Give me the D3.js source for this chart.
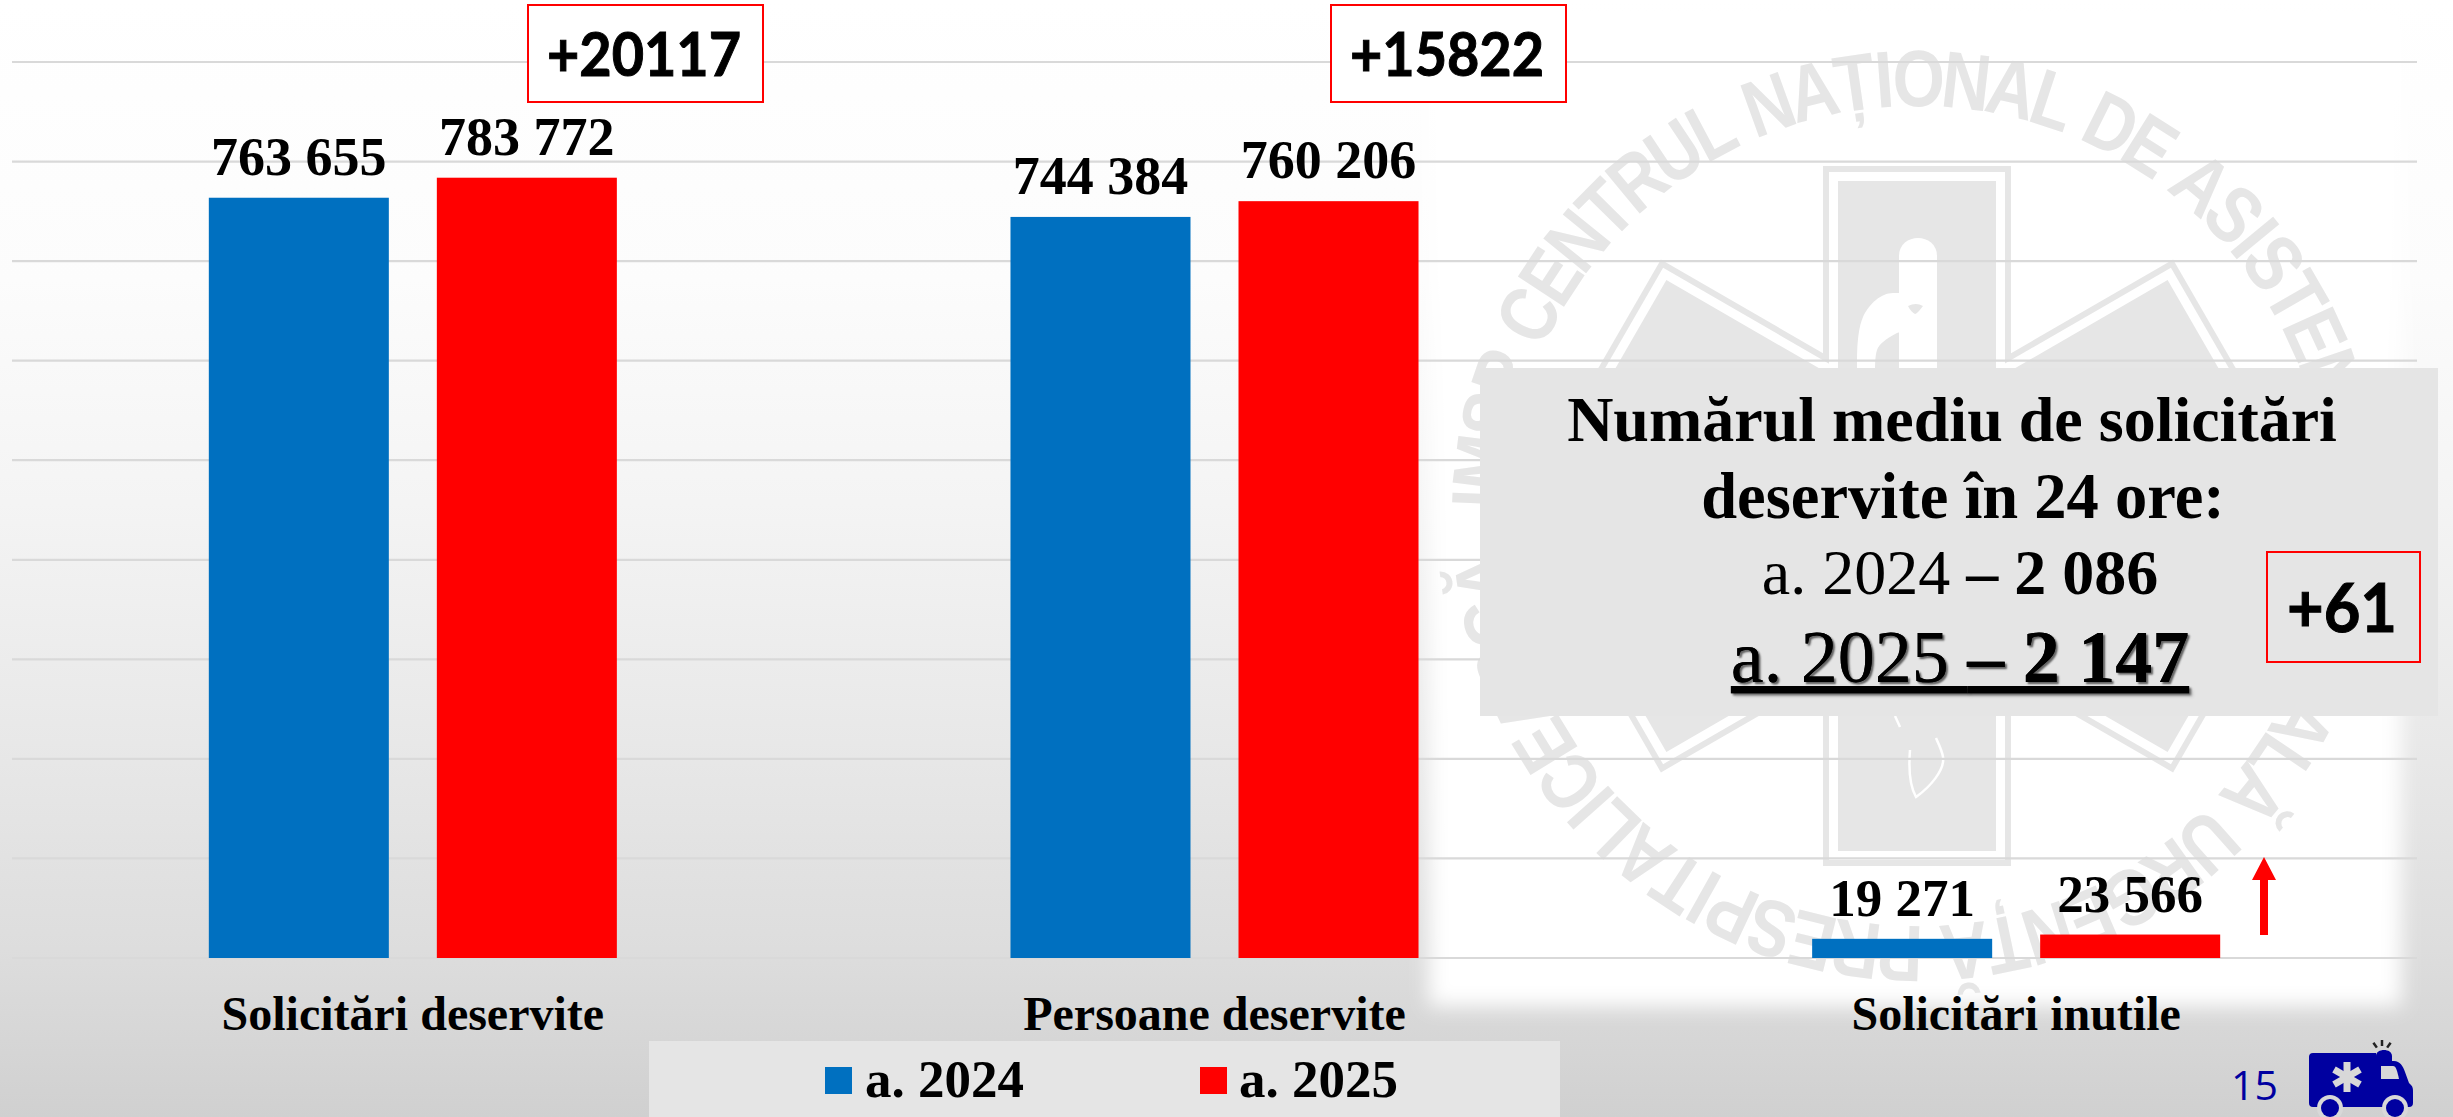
<!DOCTYPE html>
<html><head><meta charset="utf-8">
<script src="https://cdn.jsdelivr.net/npm/d3@7"></script>
<style>html,body{margin:0;padding:0;background:#fff;overflow:hidden}svg{display:block}</style>
</head><body><svg id="c" width="2453" height="1117"></svg>
<script>
const categories = ["Solicitări deservite","Persoane deservite","Solicitări inutile"];
const seriesNames = ["a. 2024","a. 2025"];
const values2024 = [763655,744384,19271];
const values2025 = [783772,760206,23566];
const differences = ["+20117","+15822"];
const averageLines = ["Numărul mediu de solicitări","deservite în 24 ore:"];
const seriesColors = ["#0070C0","#FF0000"];
const watermarkText = "IMSP CENTRUL NAȚIONAL DE ASISTENȚĂ MEDICALĂ URGENȚĂ PRESPITALICEASCĂ";

const W=2453,H=1117,serif="'Liberation Serif',serif",sans="Lato,'Open Sans',sans-serif";
const svg=d3.select("#c");
const defs=svg.append("defs");
const grad=defs.append("linearGradient").attr("id","bg").attr("x1",0).attr("y1",0).attr("x2",0).attr("y2",1);
[[0,"#ffffff"],[.25,"#fcfcfc"],[.45,"#f4f4f4"],[.7,"#e6e6e6"],[.85,"#dddddd"],[1,"#d0d0d0"]].forEach(s=>grad.append("stop").attr("offset",s[0]).attr("stop-color",s[1]));
defs.append("filter").attr("id","soft").attr("x","-5%").attr("y","-5%").attr("width","110%").attr("height","110%")
  .append("feGaussianBlur").attr("stdDeviation",10);
svg.append("rect").attr("width",W).attr("height",H).attr("fill","url(#bg)");

// watermark panel
svg.append("rect").attr("x",1429).attr("y",12).attr("width",972).attr("height",994).attr("fill","#fff").attr("filter","url(#soft)");
const wm=svg.append("g").attr("transform","translate(1917,516)");
const wmGrey="#e6e6e6";
[[94,350,wmGrey],[88,344,"#fff"],[79,335,wmGrey]].forEach(l=>{
  [0,60,120].forEach(a=>wm.append("rect").attr("x",-l[0]).attr("y",-l[1]).attr("width",l[0]*2).attr("height",l[1]*2).attr("fill",l[2]).attr("transform",`rotate(${a})`));
});
// rod and snake
wm.append("path").attr("fill","#fff").attr("d","M-18,-260 C-18,-284 20,-284 20,-260 L20,-140 L-18,-140 Z");
wm.append("path").attr("fill","#fff").attr("d","M-60,-140 L-60,-156 C-60,-175 -58,-190 -54,-199 C-48,-212 -36,-223 -24,-223 L3,-223 C10,-223 16,-219 20,-213 C20,-203 16,-196 10,-193 C0,-188 -10,-187 -20,-183 C-30,-178 -38,-172 -40,-166 C-42,-160 -42,-150 -42,-140 Z");
wm.append("path").attr("fill",wmGrey).attr("d","M-9,-210 Q-1,-214 6,-210 Q0,-202 -2,-202 Q-6,-204 -9,-210 Z");
wm.append("path").attr("fill","none").attr("stroke","#fff").attr("stroke-width",2.5)
  .attr("d","M-7,234 C-9,259 -5,274 -1,281 C13,271 28,254 26,241 C25,234 21,227 19,222 M-22,200 L-17,211");
// circular legend, letter by letter so each glyph can be narrowed
const wmFont="'Liberation Sans',sans-serif", wmSize=80, wmSquash=0.84, rText=410;
const probe=svg.append("text").attr("font-family",wmFont).attr("font-weight",700).attr("font-size",wmSize);
const chars=Array.from(watermarkText);
const adv=chars.map(ch=>{probe.text(ch==" "?"i":ch);return probe.node().getComputedTextLength()*wmSquash+3;});
probe.remove();
const total=d3.sum(adv), startDeg=-89, spanDeg=354;
let run=0;
const wmLetters=wm.append("g").attr("font-family",wmFont).attr("font-weight",700).attr("font-size",wmSize).attr("fill",wmGrey).attr("text-anchor","middle");
chars.forEach((ch,i)=>{
  const a=startDeg+(run+adv[i]/2)/total*spanDeg; run+=adv[i];
  if(ch!==" ")wmLetters.append("text").attr("transform",`rotate(${a}) translate(0,${-rText}) scale(${wmSquash},1)`).text(ch);
});

// scales
const x0=d3.scaleBand().domain(categories).range([12,2417]);
const x1=d3.scaleBand().domain(seriesNames).range([0,x0.bandwidth()]).paddingInner(48/228).paddingOuter(196.8/228);
const y=d3.scaleLinear().domain([0,900000]).range([958,62]);
const fmt=d3.formatLocale({decimal:".",thousands:" ",grouping:[3],currency:["",""]}).format(",d");

// grid
svg.append("g").selectAll("line").data(y.ticks(9)).join("line")
  .attr("x1",12).attr("x2",2417).attr("y1",d=>y(d)).attr("y2",d=>y(d)).attr("stroke","#d9d9d9").attr("stroke-width",2.2);

// bars and labels
const rows=categories.map((c,i)=>[{c,s:seriesNames[0],v:values2024[i],k:0},{c,s:seriesNames[1],v:values2025[i],k:1}]).flat();
svg.append("g").selectAll("rect").data(rows).join("rect")
  .attr("x",d=>x0(d.c)+x1(d.s)).attr("width",x1.bandwidth()).attr("y",d=>y(d.v)).attr("height",d=>y(0)-y(d.v)).attr("fill",d=>seriesColors[d.k]);
svg.append("g").selectAll("text").data(rows).join("text")
  .attr("x",d=>x0(d.c)+x1(d.s)+x1.bandwidth()/2).attr("y",d=>y(d.v)-23).attr("text-anchor","middle")
  .attr("font-family",serif).attr("font-weight",700).attr("font-size",d=>d.v<1e5?53:54).attr("fill","#000").text(d=>fmt(d.v));
svg.append("g").selectAll("text").data(categories).join("text")
  .attr("x",d=>x0(d)+x0.bandwidth()/2).attr("y",1030).attr("text-anchor","middle")
  .attr("font-family",serif).attr("font-weight",700).attr("font-size",48).attr("fill","#000").text(d=>d);

// delta boxes
function deltaBox(x,yy,w,h,t,cx,base,tw,fs){
  svg.append("rect").attr("x",x).attr("y",yy).attr("width",w).attr("height",h).attr("fill","#fff").attr("fill-opacity",t==="+61"?0:1).attr("stroke","#FF0000").attr("stroke-width",2);
  svg.append("text").attr("x",cx).attr("y",base).attr("text-anchor","middle").attr("font-family",sans).attr("font-weight",700).attr("font-size",fs)
    .attr("textLength",tw).attr("lengthAdjust","spacingAndGlyphs").attr("fill","#000").attr("stroke","#000").attr("stroke-width",1).text(t);
}
deltaBox(528,5,235,97,differences[0],644,76,194,62);
deltaBox(1331,5,235,97,differences[1],1447,76,194,62);

// info box
svg.append("rect").attr("x",1480).attr("y",368).attr("width",958).attr("height",348).attr("fill","#e5e5e5");
function T(x,yy,fs,w){return svg.append("text").attr("x",x).attr("y",yy).attr("text-anchor","middle").attr("font-family",serif).attr("font-size",fs).attr("font-weight",w).attr("fill","#000");}
T(1952,441,64,700).text(averageLines[0]);
T(1963,518,64.5,700).text(averageLines[1]);
const l3=T(1960,594,64,400);
l3.append("tspan").text(seriesNames[0]+" ");
l3.append("tspan").attr("font-weight",700).text("– "+d3.format(",")(2086).replace(","," "));
const l4=T(1960,682,74,400).attr("text-decoration","underline").style("text-shadow","2px 2px 2px rgba(0,0,0,.35)");
l4.append("tspan").text(seriesNames[1]+" ");
l4.append("tspan").attr("font-weight",700).text("– "+d3.format(",")(2147).replace(","," "));
deltaBox(2267,552,153,110,"+61",2342,632,110,66);

// arrow
svg.append("path").attr("fill","#FF0000").attr("d","M2260,935 V880 H2252 L2264,857 L2276,880 H2268 V935 Z");

// legend
svg.append("rect").attr("x",649).attr("y",1041).attr("width",911).attr("height",76).attr("fill","#e5e5e5");
const leg=[[825,865],[1200,1239]];
seriesNames.forEach((s,i)=>{
  svg.append("rect").attr("x",leg[i][0]).attr("y",1067).attr("width",27).attr("height",27).attr("fill",seriesColors[i]);
  svg.append("text").attr("x",leg[i][1]).attr("y",1097).attr("font-family",serif).attr("font-weight",700).attr("font-size",53).attr("fill","#000").text(s);
});

// page number + ambulance
svg.append("text").attr("x",2231).attr("y",1100).attr("font-family","'Open Sans',sans-serif").attr("font-size",41).attr("fill","#0000A0").text("15");
const am=svg.append("g");
am.append("path").attr("fill","#0000A0").attr("d","M2313,1053 H2376 V1056 C2376,1048 2392,1048 2392,1056 V1061 H2394 C2400,1061 2403,1066 2405,1072 L2409,1083 L2411,1085 C2413,1087 2413,1089 2413,1092 V1103 Q2413,1107 2409,1107 H2313 Q2309,1107 2309,1103 V1057 Q2309,1053 2313,1053 Z");
am.append("path").attr("fill","#d8d8d8").attr("d","M2381,1066 H2393 C2396,1066 2397,1070 2399,1079 H2381 Z");
am.append("g").attr("stroke","#d8d8d8").attr("stroke-width",7).selectAll("line").data([0,60,120]).join("line")
  .attr("transform",d=>`translate(2347,1077) rotate(${d})`).attr("y1",-15).attr("y2",15);
[2330,2395].forEach(cx=>{
  am.append("circle").attr("cx",cx).attr("cy",1108).attr("r",13).attr("fill","#d8d8d8");
  am.append("circle").attr("cx",cx).attr("cy",1108).attr("r",9).attr("fill","#0000A0");
});
am.append("g").attr("stroke","#222").attr("stroke-width",2.5).selectAll("line").data([-35,0,35]).join("line")
  .attr("transform",d=>`translate(2382,1055) rotate(${d})`).attr("y1",-9).attr("y2",-15);
</script></body></html>
